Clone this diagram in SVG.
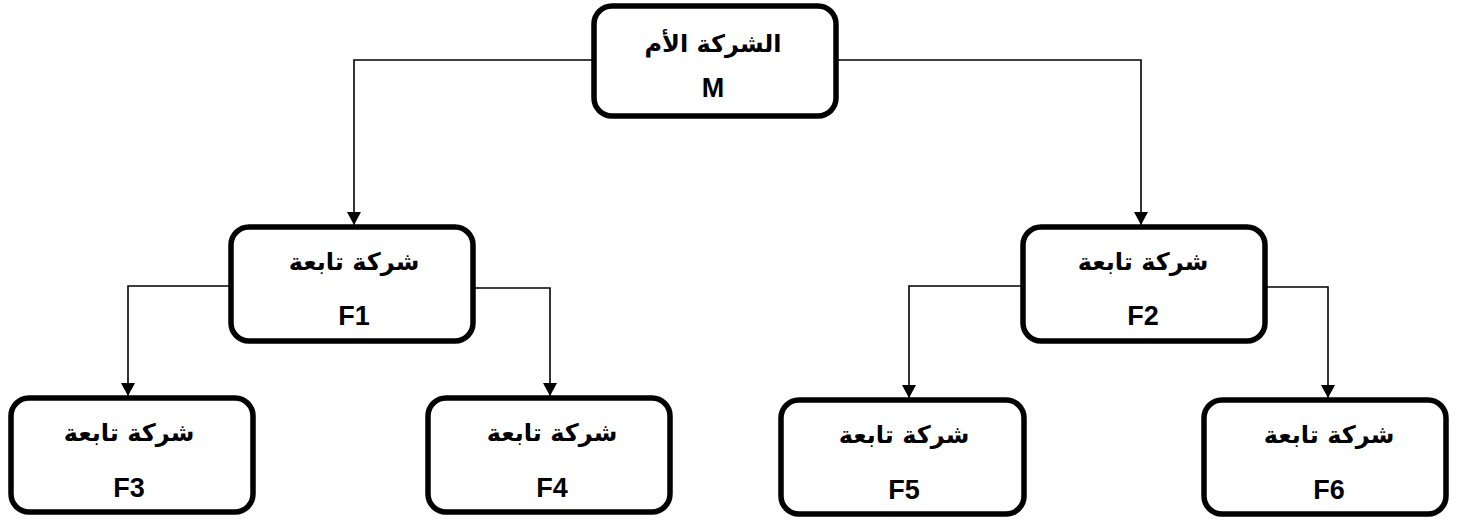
<svg xmlns="http://www.w3.org/2000/svg" width="1459" height="520" viewBox="0 0 1459 520">
  <style>
    .box { fill: #ffffff; stroke: #000000; stroke-width: 5.5; }
    .wire { fill: none; stroke: #000000; stroke-width: 1.6; }
    .ar { font-family: "DejaVu Sans", "Noto Sans", sans-serif; font-weight: bold; font-size: 24px; fill: #000; text-anchor: middle; }
    .la { font-family: "Liberation Sans", Arial, sans-serif; font-weight: bold; font-size: 27px; fill: #000; text-anchor: middle; }
  </style>
  <defs>
    <marker id="tip" markerWidth="13" markerHeight="14" refX="13" refY="7" orient="auto" markerUnits="userSpaceOnUse">
      <path d="M0,0 L13,7 L0,14 Z" fill="#000"/>
    </marker>
  </defs>

  <g id="connectors">
    <path class="wire" d="M594,60 H354 V225" marker-end="url(#tip)"/>
    <path class="wire" d="M836,60 H1141 V225" marker-end="url(#tip)"/>
    <path class="wire" d="M231,286 H128 V396" marker-end="url(#tip)"/>
    <path class="wire" d="M473,288 H550 V396" marker-end="url(#tip)"/>
    <path class="wire" d="M1023,286 H909 V398" marker-end="url(#tip)"/>
    <path class="wire" d="M1265,287 H1328 V398" marker-end="url(#tip)"/>
  </g>

  <g id="node-m">
    <rect class="box" x="594" y="6" width="242" height="110" rx="18"/>
    <text class="ar" x="713" y="52">الشركة الأم</text>
    <text class="la" x="713" y="97">M</text>
  </g>
  <g id="node-f1">
    <rect class="box" x="231" y="227" width="242" height="114" rx="18"/>
    <text class="ar" x="354" y="270">شركة تابعة</text>
    <text class="la" x="354" y="325">F1</text>
  </g>
  <g id="node-f2">
    <rect class="box" x="1023" y="227" width="242" height="114" rx="18"/>
    <text class="ar" x="1143" y="270">شركة تابعة</text>
    <text class="la" x="1143" y="325">F2</text>
  </g>
  <g id="node-f3">
    <rect class="box" x="11" y="398" width="242" height="114" rx="18"/>
    <text class="ar" x="129" y="441">شركة تابعة</text>
    <text class="la" x="129" y="497">F3</text>
  </g>
  <g id="node-f4">
    <rect class="box" x="428" y="398" width="242" height="114" rx="18"/>
    <text class="ar" x="552" y="441">شركة تابعة</text>
    <text class="la" x="552" y="497">F4</text>
  </g>
  <g id="node-f5">
    <rect class="box" x="781" y="400" width="243" height="114" rx="18"/>
    <text class="ar" x="904" y="443">شركة تابعة</text>
    <text class="la" x="904" y="499">F5</text>
  </g>
  <g id="node-f6">
    <rect class="box" x="1204" y="400" width="242" height="114" rx="18"/>
    <text class="ar" x="1329" y="443">شركة تابعة</text>
    <text class="la" x="1329" y="499">F6</text>
  </g>
</svg>
